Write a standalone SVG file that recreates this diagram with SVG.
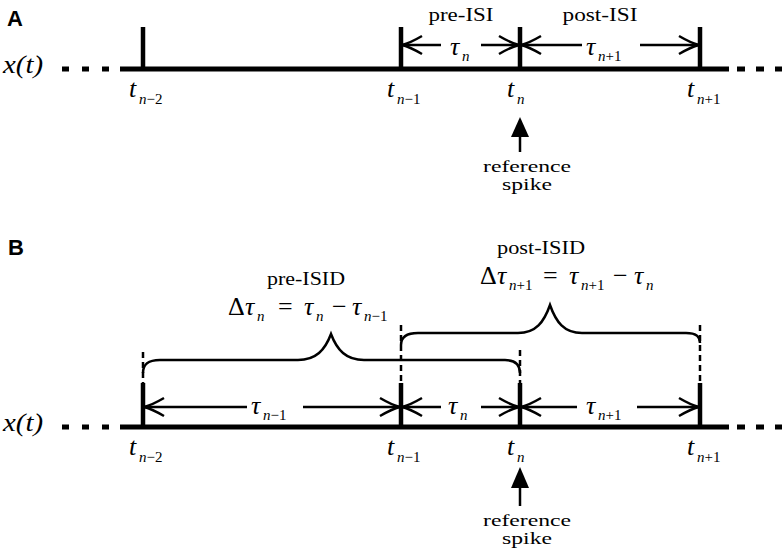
<svg xmlns="http://www.w3.org/2000/svg" width="782" height="552" viewBox="0 0 782 552">
<style>
.axis{stroke:#000;stroke-width:5;fill:none}
.dots{stroke:#000;stroke-width:5;fill:none;stroke-dasharray:7 13}
.spike{stroke:#000;stroke-width:4.5}
.dash{stroke:#000;stroke-width:2.5;stroke-dasharray:6 4}
.brace{stroke:#000;stroke-width:2.5;fill:none}
.arr{stroke:#000;stroke-width:2.5;fill:none;marker-end:url(#chev)}
.shaft{stroke:#000;stroke-width:2.5}
.panel{font-family:"Liberation Sans",Arial,sans-serif;font-weight:bold;font-size:22px}
.w{font-family:"Liberation Serif","Times New Roman",serif;font-size:18px;text-anchor:middle}
.ref{font-size:16.5px}
.m{font-family:"Liberation Serif","Times New Roman",serif;font-style:italic;font-size:26px}
.r{font-family:"Liberation Serif","Times New Roman",serif;font-size:26px}
.s{font-family:"Liberation Serif","Times New Roman",serif;font-style:italic;font-size:15px}
.u{font-style:normal}
</style>
<defs>
<marker id="chev" markerUnits="userSpaceOnUse" markerWidth="24" markerHeight="24" refX="22" refY="12" orient="auto" viewBox="0 0 24 24">
<path d="M2,3 Q14,10 22,12 Q14,14 2,21" fill="none" stroke="#000" stroke-width="2.5"/>
</marker>
</defs>

<g id="panelA">
<text class="panel" x="7" y="26">A</text>
<text class="m" x="3" y="73" textLength="40" lengthAdjust="spacingAndGlyphs">x(t)</text>
<line class="dots" x1="62" y1="69" x2="120" y2="69"/>
<line class="axis" x1="120" y1="69" x2="729" y2="69"/>
<line class="dots" x1="737" y1="69" x2="782" y2="69" style="stroke-dasharray:8 11"/>
<g id="A-spike-n-2"><line class="spike" x1="143" y1="27" x2="143" y2="69"/>
<text class="m" x="129" y="97">t</text><text class="s" x="139" y="104">n<tspan class="u">−2</tspan></text></g>
<g id="A-spike-n-1"><line class="spike" x1="401" y1="27" x2="401" y2="69"/>
<text class="m" x="387" y="97">t</text><text class="s" x="397" y="104">n<tspan class="u">−1</tspan></text></g>
<g id="A-spike-n"><line class="spike" x1="520" y1="27" x2="520" y2="69"/>
<text class="m" x="507" y="97">t</text><text class="s" x="517" y="104">n</text></g>
<g id="A-spike-n+1"><line class="spike" x1="700" y1="27" x2="700" y2="69"/>
<text class="m" x="687" y="97">t</text><text class="s" x="697" y="104">n<tspan class="u">+1</tspan></text></g>
<g id="A-preISI"><text class="w" x="461" y="21" textLength="65" lengthAdjust="spacingAndGlyphs">pre-ISI</text>
<text class="m" x="450" y="55">τ</text><text class="s" x="462" y="61">n</text></g>
<g id="A-postISI"><text class="w" x="600" y="21" textLength="75" lengthAdjust="spacingAndGlyphs">post-ISI</text>
<text class="m" x="586" y="55">τ</text><text class="s" x="598" y="61">n<tspan class="u">+1</tspan></text></g>
<g id="A-ref">
<polygon points="520,117 511,137 529,137" fill="#000"/>
<line class="shaft" x1="520" y1="136" x2="520" y2="152"/>
<text class="w ref" x="527" y="172" textLength="88" lengthAdjust="spacingAndGlyphs">reference</text>
<text class="w ref" x="527" y="190" textLength="50" lengthAdjust="spacingAndGlyphs">spike</text>
</g>
</g>

<g id="panelB">
<text class="panel" x="8" y="255">B</text>
<text class="m" x="3" y="431" textLength="40" lengthAdjust="spacingAndGlyphs">x(t)</text>
<line class="dots" x1="62" y1="427" x2="120" y2="427"/>
<line class="axis" x1="120" y1="427" x2="729" y2="427"/>
<line class="dots" x1="737" y1="427" x2="782" y2="427" style="stroke-dasharray:8 11"/>
<g id="B-spike-n-2"><line class="spike" x1="143" y1="383" x2="143" y2="427"/><line class="dash" x1="143" y1="352" x2="143" y2="383"/>
<text class="m" x="129" y="455">t</text><text class="s" x="139" y="462">n<tspan class="u">−2</tspan></text></g>
<g id="B-spike-n-1"><line class="spike" x1="401" y1="383" x2="401" y2="427"/><line class="dash" x1="401" y1="325" x2="401" y2="383"/>
<text class="m" x="387" y="455">t</text><text class="s" x="397" y="462">n<tspan class="u">−1</tspan></text></g>
<g id="B-spike-n"><line class="spike" x1="520" y1="383" x2="520" y2="427"/><line class="dash" x1="520" y1="350" x2="520" y2="383"/>
<text class="m" x="507" y="455">t</text><text class="s" x="517" y="462">n</text></g>
<g id="B-spike-n+1"><line class="spike" x1="700" y1="383" x2="700" y2="427"/><line class="dash" x1="700" y1="325" x2="700" y2="383"/>
<text class="m" x="687" y="455">t</text><text class="s" x="697" y="462">n<tspan class="u">+1</tspan></text></g>

<g id="B-preISID">
<path class="brace" d="M143,373 C143,365 147,360 160,360 L298,360 C316,360 325,350 331,334 C337,350 346,360 364,360 L505,360 C515,360 520,364 520,373"/>
<text class="w" x="306" y="285" textLength="78" lengthAdjust="spacingAndGlyphs">pre-ISID</text>
<text class="r" x="228" y="315">Δ</text><text class="m" x="245" y="315">τ</text><text class="s" x="257" y="321">n</text>
<text class="r" x="278" y="315">=</text>
<text class="m" x="304" y="315">τ</text><text class="s" x="316" y="321">n</text>
<text class="r" x="332" y="315">−</text>
<text class="m" x="352" y="315">τ</text><text class="s" x="364" y="321">n<tspan class="u">−1</tspan></text>
</g>
<g id="B-postISID">
<path class="brace" d="M401,345 C401,338 405,333 418,333 L518,333 C536,333 544,322 550,305 C556,322 564,333 582,333 L686,333 C697,333 700,337 700,343"/>
<text class="w" x="541" y="254" textLength="88" lengthAdjust="spacingAndGlyphs">post-ISID</text>
<text class="r" x="480" y="284">Δ</text><text class="m" x="497" y="284">τ</text><text class="s" x="509" y="290">n<tspan class="u">+1</tspan></text>
<text class="r" x="543" y="284">=</text>
<text class="m" x="569" y="284">τ</text><text class="s" x="581" y="290">n<tspan class="u">+1</tspan></text>
<text class="r" x="613" y="284">−</text>
<text class="m" x="634" y="284">τ</text><text class="s" x="646" y="290">n</text>
</g>
<g id="B-taus">
<text class="m" x="251" y="414">τ</text><text class="s" x="263" y="420">n<tspan class="u">−1</tspan></text>
<text class="m" x="448" y="414">τ</text><text class="s" x="460" y="420">n</text>
<text class="m" x="586" y="414">τ</text><text class="s" x="598" y="420">n<tspan class="u">+1</tspan></text>
</g>
<g id="B-ref">
<polygon points="520,467 511,488 529,488" fill="#000"/>
<line class="shaft" x1="520" y1="487" x2="520" y2="506"/>
<text class="w ref" x="527" y="526" textLength="88" lengthAdjust="spacingAndGlyphs">reference</text>
<text class="w ref" x="527" y="544" textLength="50" lengthAdjust="spacingAndGlyphs">spike</text>
</g>
</g>

<g id="connectors">
<line class="arr" x1="441" y1="45" x2="402" y2="45"/>
<line class="arr" x1="481" y1="45" x2="519" y2="45"/>
<line class="arr" x1="582" y1="45" x2="521" y2="45"/>
<line class="arr" x1="640" y1="45" x2="699" y2="45"/>
<line class="arr" x1="247" y1="407" x2="144" y2="407"/>
<line class="arr" x1="303" y1="407" x2="400" y2="407"/>
<line class="arr" x1="441" y1="407" x2="402" y2="407"/>
<line class="arr" x1="481" y1="407" x2="519" y2="407"/>
<line class="arr" x1="577" y1="407" x2="521" y2="407"/>
<line class="arr" x1="637" y1="407" x2="699" y2="407"/>
</g>
</svg>
